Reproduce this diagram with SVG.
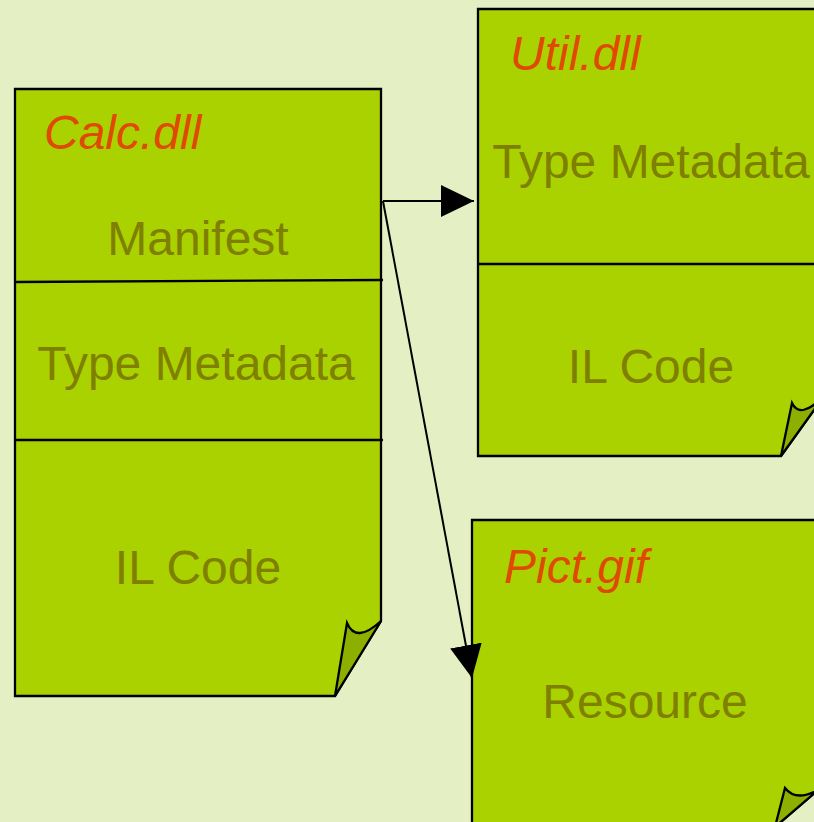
<svg xmlns="http://www.w3.org/2000/svg" width="814" height="822" viewBox="0 0 814 822">
  <style>
    .page { fill: #AAD200; stroke: #000; stroke-width: 2.3; stroke-linejoin: miter; }
    .flap { fill: #8DB000; stroke: #000; stroke-width: 2.3; stroke-linejoin: miter; }
    .rule { stroke: #000; stroke-width: 2.3; fill: none; }
    .title { font-family: "Liberation Sans", Arial, sans-serif; font-style: italic; font-size: 48px; fill: #E04A00; }
    .part { font-family: "Liberation Sans", Arial, sans-serif; font-size: 48px; fill: #7F7F00; text-anchor: middle; }
    .link { stroke: #000; stroke-width: 2; fill: none; }
  </style>
  <defs>
    <marker id="arrow" viewBox="0 0 33 32" refX="33" refY="16" markerWidth="33" markerHeight="32" markerUnits="userSpaceOnUse" orient="auto">
      <path d="M0,0 L33,16 L0,32 Z" fill="#000"/>
    </marker>
  </defs>

  <rect x="0" y="0" width="814" height="822" fill="#E4EFC3"/>

  <!-- Calc.dll assembly -->
  <g id="calc">
    <path class="page" d="M15,89 H381 V621 L335,696 H15 Z"/>
    <path class="flap" d="M335,696 L347,623 Q356,644 381,621 Z"/>
    <path class="rule" d="M15,282 L383,280"/>
    <path class="rule" d="M15,440 H383"/>
    <text class="title" x="44" y="149">Calc.dll</text>
    <text class="part" x="198" y="255">Manifest</text>
    <text class="part" x="196" y="380">Type Metadata</text>
    <text class="part" x="198" y="584">IL Code</text>
  </g>

  <!-- Util.dll assembly -->
  <g id="util">
    <path class="page" d="M478,9 H824 V396 L781,456 H478 Z"/>
    <path class="flap" d="M781,456 L792,403 Q800,420 824,396 Z"/>
    <path class="rule" d="M478,264 H824"/>
    <text class="title" x="510" y="70">Util.dll</text>
    <text class="part" x="651" y="178">Type Metadata</text>
    <text class="part" x="651" y="383">IL Code</text>
  </g>

  <!-- Pict.gif resource -->
  <g id="pict">
    <path class="page" d="M472,520 H818 V790 L775,827 H472 Z"/>
    <path class="flap" d="M775,827 L785,788 Q796,802 818,790 Z"/>
    <text class="title" x="504" y="583">Pict.gif</text>
    <text class="part" x="645" y="718">Resource</text>
  </g>

  <!-- references from the manifest -->
  <g id="connectors">
    <path class="link" d="M383,201 H474" marker-end="url(#arrow)"/>
    <path class="link" d="M383,201 L472,678" marker-end="url(#arrow)"/>
  </g>
</svg>
